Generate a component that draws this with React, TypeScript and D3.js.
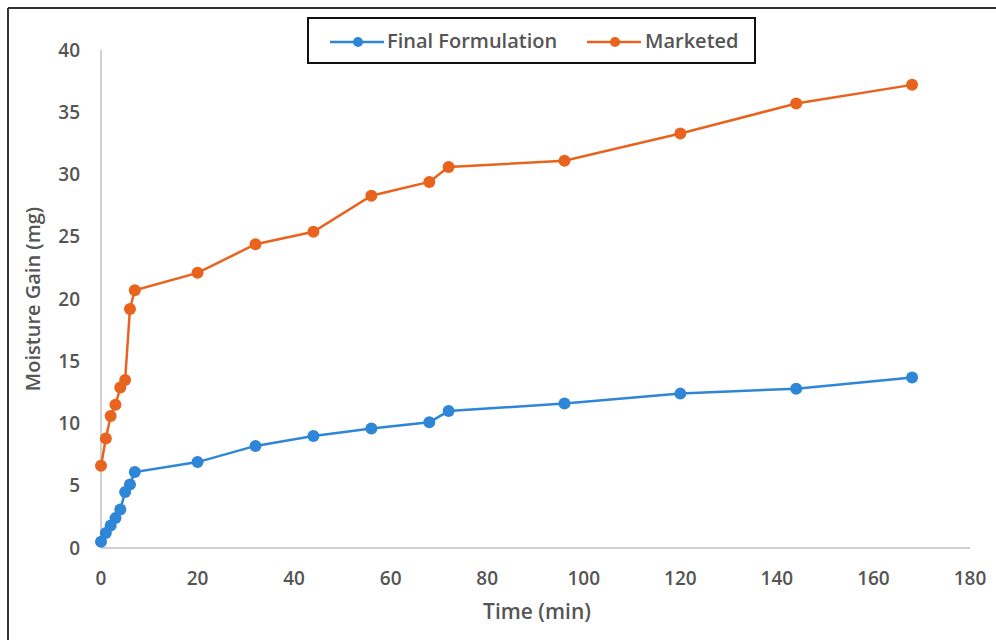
import React from "react";
import * as d3 from "d3";

const times = [0, 1, 2, 3, 4, 5, 6, 7, 20, 32, 44, 56, 68, 72, 96, 120, 144, 168];
const finalFormulation = [0.5, 1.2, 1.8, 2.4, 3.1, 4.5, 5.1, 6.1, 6.9, 8.2, 9.0, 9.6, 10.1, 11.0, 11.6, 12.4, 12.8, 13.7];
const marketed = [6.6, 8.8, 10.6, 11.5, 12.9, 13.5, 19.2, 20.7, 22.1, 24.4, 25.4, 28.3, 29.4, 30.6, 31.1, 33.3, 35.7, 37.2];
const xTicks = [0, 20, 40, 60, 80, 100, 120, 140, 160, 180];
const yTicks = [0, 5, 10, 15, 20, 25, 30, 35, 40];
const seriesNames = ["Final Formulation", "Marketed"];
const seriesColors = ["#2f86d6", "#e8641e"];

const W = 996;
const H = 640;

export default function App() {
  const x = d3.scaleLinear().domain([0, 180]).range([101, 970]);
  const y = d3.scaleLinear().domain([0, 40]).range([548, 50]);
  const line = d3
    .line<[number, number]>()
    .x((d) => x(d[0]))
    .y((d) => y(d[1]));
  const series = [finalFormulation, marketed].map((vals) =>
    times.map((t, i) => [t, vals[i]] as [number, number])
  );
  const font = "'Open Sans', 'Noto Sans', sans-serif";
  const textColor = "#555555";
  const legendItems = [
    { lx: 330, tx: 387 },
    { lx: 587, tx: 645 },
  ];
  return (
    <svg
      width={W}
      height={H}
      style={{ position: "absolute", left: 0, top: 0, background: "#fff" }}
      fontFamily={font}
    >
      <rect x={0} y={0} width={W} height={H} fill="#fff" />
      {/* frame */}
      <line x1={8} y1={8} x2={W} y2={8} stroke="#333" strokeWidth={2} />
      <line x1={8} y1={8} x2={8} y2={H} stroke="#333" strokeWidth={2} />
      {/* axes */}
      <line x1={x(0)} y1={y(40)} x2={x(0)} y2={y(0)} stroke="#d0d0d0" strokeWidth={2} />
      <line x1={x(0)} y1={y(0)} x2={x(180)} y2={y(0)} stroke="#d0d0d0" strokeWidth={2} />
      {yTicks.map((t) => (
        <text
          key={"y" + t}
          x={80}
          y={y(t)}
          dy="0.35em"
          textAnchor="end"
          fontSize={19}
          fontWeight={600}
          fill={textColor}
        >
          {t}
        </text>
      ))}
      {xTicks.map((t) => (
        <text
          key={"x" + t}
          x={x(t)}
          y={578}
          dy="0.35em"
          textAnchor="middle"
          fontSize={19}
          fontWeight={600}
          fill={textColor}
        >
          {t}
        </text>
      ))}
      <text
        x={537}
        y={612}
        dy="0.35em"
        textAnchor="middle"
        fontSize={21}
        fontWeight={600}
        fill={textColor}
      >
        Time (min)
      </text>
      <text
        transform={`translate(33,${y(20)}) rotate(-90)`}
        dy="0.35em"
        textAnchor="middle"
        fontSize={20}
        fontWeight={600}
        fill={textColor}
      >
        Moisture Gain (mg)
      </text>
      {series.map((s, i) => (
        <g key={"s" + i}>
          <path d={line(s) || ""} fill="none" stroke={seriesColors[i]} strokeWidth={2.5} />
          {s.map((d, j) => (
            <circle key={j} cx={x(d[0])} cy={y(d[1])} r={6} fill={seriesColors[i]} />
          ))}
        </g>
      ))}
      {/* legend */}
      <rect x={308} y={18} width={447} height={45} fill="#fff" stroke="#111" strokeWidth={2} />
      {seriesNames.map((n, i) => (
        <g key={"l" + i}>
          <line
            x1={legendItems[i].lx}
            y1={42}
            x2={legendItems[i].lx + 54}
            y2={42}
            stroke={seriesColors[i]}
            strokeWidth={2.5}
          />
          <circle cx={legendItems[i].lx + 28} cy={42} r={5} fill={seriesColors[i]} />
          <text
            x={legendItems[i].tx}
            y={41}
            dy="0.35em"
            fontSize={20}
            fontWeight={600}
            fill={textColor}
          >
            {n}
          </text>
        </g>
      ))}
    </svg>
  );
}
